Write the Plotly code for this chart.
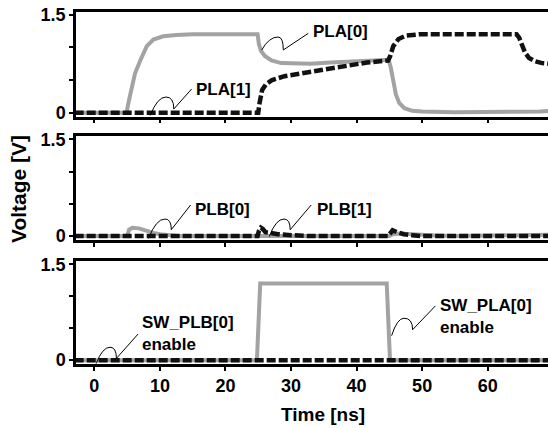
import plotly.graph_objects as go
from plotly.subplots import make_subplots

# ---------------- data (time in ns, voltage in V) ----------------
t_pla0 = [-3, 4.9, 5.3, 5.7, 6.2, 7.0, 8.0, 9.0, 10.5, 12.5, 15, 20, 24.9, 25.1, 25.4, 26.0, 27.0, 28.5,
          30.5, 33, 36, 40, 44, 44.9, 45.2, 45.6, 46.0, 46.5, 47.3, 48.5, 50, 55, 60, 65, 68, 69.5]
v_pla0 = [0, 0, 0.2, 0.4, 0.6, 0.8, 1.02, 1.12, 1.17, 1.19, 1.2, 1.2, 1.2, 1.05, 0.95, 0.87, 0.8, 0.76,
          0.75, 0.75, 0.77, 0.79, 0.81, 0.81, 0.7, 0.45, 0.28, 0.15, 0.07, 0.03, 0.02, 0.01, 0.01, 0.015, 0.02, 0.03]

t_pla1 = [-3, 25.0, 25.2, 25.6, 26.2, 27.1, 29, 31.4, 34, 36.5, 39, 41.6, 44.8, 45.1, 45.6, 46.4, 47.5,
          49.5, 55, 60, 64.4, 64.8, 65.2, 65.7, 66.3, 67.2, 68.3, 69.5]
v_pla1 = [0, 0, 0.15, 0.35, 0.44, 0.5, 0.56, 0.6, 0.66, 0.7, 0.74, 0.77, 0.8, 0.86, 1.02, 1.13, 1.18,
          1.2, 1.2, 1.2, 1.2, 1.15, 1.03, 0.92, 0.84, 0.79, 0.76, 0.75]

t_plb0 = [-3, 5.0, 5.3, 5.8, 6.8, 8.0, 9.0, 10.0, 11.5, 13, 45, 45.5, 46.5, 48, 50, 52, 55, 66, 69.5]
v_plb0 = [0, 0, 0.1, 0.13, 0.12, 0.08, 0.05, 0.03, 0.01, 0, 0, 0.03, 0.04, 0.03, 0.02, 0.01, 0, 0.01, 0.02]

t_plb1 = [-3, 24.9, 25.1, 25.4, 25.7, 26.1, 26.8, 28, 30, 33, 44.8, 45.1, 45.5, 46.2, 47.2, 48.5, 50, 69.5]
v_plb1 = [0, 0, 0.08, 0.13, 0.11, 0.06, 0.05, 0.03, 0.015, 0, 0, 0.05, 0.09, 0.06, 0.03, 0.015, 0, 0]

t_swpla0 = [-3, 24.8, 25.3, 44.6, 45.1, 69.5]
v_swpla0 = [0, 0, 1.2, 1.2, 0, 0]

t_swplb0 = [-3, 69.5]
v_swplb0 = [0, 0]

x_tickvals = [0, 10, 20, 30, 40, 50, 60]
y_tickvals = [0, 0.5, 1.0, 1.5]
y_ticktext = ["0", "", "", "1.5"]

# ---------------- styling ----------------
GRAY = "#a3a3a3"
BLACK = "#111111"
FONT = "Liberation Sans, Arial, sans-serif"

fig = make_subplots(rows=3, cols=1, shared_xaxes=False, vertical_spacing=0.05)

def gray(t, v, row):
    fig.add_trace(go.Scatter(x=t, y=v, mode="lines", line=dict(color=GRAY, width=4),
                             showlegend=False, hoverinfo="skip"), row=row, col=1)

def black(t, v, row):
    fig.add_trace(go.Scatter(x=t, y=v, mode="lines", line=dict(color=BLACK, width=4.5, dash="9px,3px"),
                             showlegend=False, hoverinfo="skip"), row=row, col=1)

gray(t_pla0, v_pla0, 1)
black(t_pla1, v_pla1, 1)
gray(t_plb0, v_plb0, 2)
black(t_plb1, v_plb1, 2)
gray(t_swpla0, v_swpla0, 3)
black(t_swplb0, v_swplb0, 3)

# plot area in pixels
L, R, T, B = 76, 548, 11, 364
W, H = R - L, B - T

def px(x):
    return (x - L) / W

def py(y):
    return (B - y) / H

domains = [(11.5, 116.7), (136, 240), (261, 364)]
for i, (top, bot) in enumerate(domains, start=1):
    fig.update_yaxes(row=i, col=1, domain=[py(bot), py(top)], range=[-0.06, 1.55],
                     tickvals=y_tickvals, ticktext=y_ticktext, ticks="outside", ticklen=4,
                     tickwidth=2, tickcolor="black", showline=True, linewidth=2.5, linecolor="black",
                     showgrid=False, zeroline=False, mirror=False,
                     tickfont=dict(family=FONT, size=18, color="black", weight="bold"))
    fig.update_xaxes(row=i, col=1, range=[-2.8, 69.2], tickvals=x_tickvals, ticks="outside",
                     ticklen=4, tickwidth=2, tickcolor="black", showline=True, linewidth=2.5,
                     linecolor="black", mirror=True, showgrid=False, zeroline=False,
                     showticklabels=(i == 3),
                     tickfont=dict(family=FONT, size=18, color="black", weight="bold"))

annotations = []
shapes = []

def label(text, x, y, size=17):
    annotations.append(dict(text=text, x=px(x), y=py(y), xref="paper", yref="paper",
                            xanchor="left", yanchor="middle", showarrow=False, align="left",
                            font=dict(family=FONT, size=size, color="black", weight="bold")))

def squiggle(s, p, tr, e):
    sx, sy = px(s[0]), py(s[1])
    pxx, pyy = px(p[0]), py(p[1])
    tx, ty = px(tr[0]), py(tr[1])
    ex, ey = px(e[0]), py(e[1])
    cx1 = sx + 0.45 * (pxx - sx)
    path = (f"M {sx},{sy} Q {cx1},{pyy} {pxx},{pyy} "
            f"Q {tx},{pyy} {tx},{ty} L {ex},{ey}")
    shapes.append(dict(type="path", path=path, xref="paper", yref="paper",
                       line=dict(color="black", width=1)))

# PLA[0]
squiggle((261.7, 50), (278, 37), (283.3, 50), (308.3, 33.3))
label("PLA[0]", 311, 31.7)
# PLA[1]
squiggle((150.3, 115.4), (166, 97), (173.8, 109), (191.6, 89))
label("PLA[1]", 194, 89)
# PLB[0]
squiggle((148.6, 238.4), (165, 219), (171.3, 229.7), (190.6, 205))
label("PLB[0]", 193.4, 209.7)
# PLB[1]
squiggle((269.2, 236.6), (284, 219), (290.2, 229.7), (311.2, 205))
label("PLB[1]", 314.7, 209.7)
# SW_PLB[0] enable
squiggle((96.2, 363.6), (110, 347.2), (116.4, 358.4), (138.1, 334))
label("SW_PLB[0]<br>enable", 139.9, 333)
# SW_PLA[0] enable
squiggle((391.6, 335.7), (404, 318.2), (412.6, 329.7), (435.3, 306))
label("SW_PLA[0]<br>enable", 438.1, 316)

# axis titles
annotations.append(dict(text="Time [ns]", x=px(323), y=py(414), xref="paper", yref="paper",
                        xanchor="center", yanchor="middle", showarrow=False,
                        font=dict(family=FONT, size=19, color="black", weight="bold")))
annotations.append(dict(text="Voltage [V]", x=px(18), y=py(189), xref="paper", yref="paper",
                        xanchor="center", yanchor="middle", showarrow=False, textangle=-90,
                        font=dict(family=FONT, size=21, color="black", weight="bold")))

fig.update_layout(width=548, height=428, margin=dict(l=L, r=548 - R, t=T, b=428 - B),
                  plot_bgcolor="white", paper_bgcolor="white",
                  annotations=annotations, shapes=shapes, showlegend=False)

fig.write_html("out.html")
